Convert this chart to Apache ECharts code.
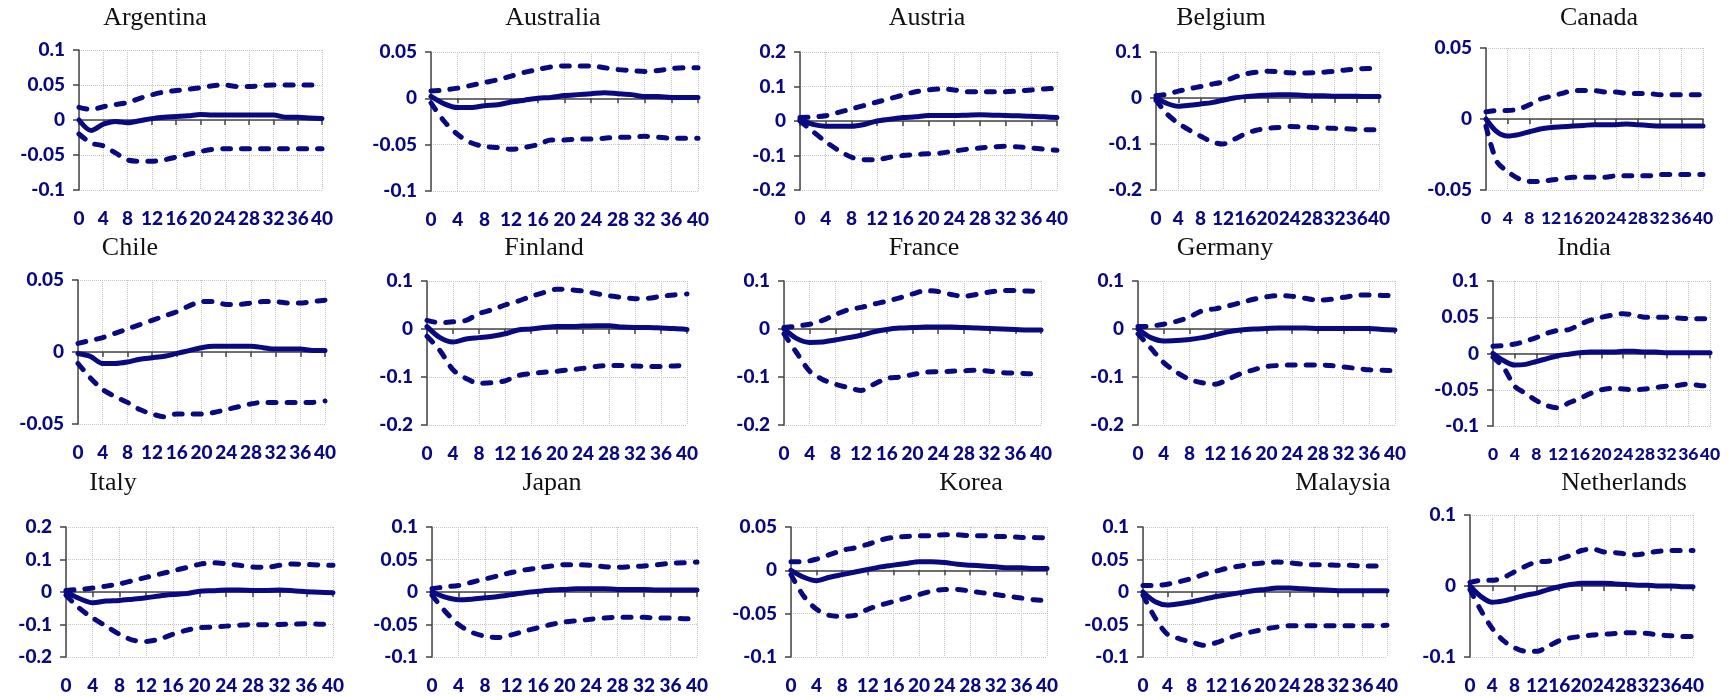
<!DOCTYPE html>
<html><head><meta charset="utf-8">
<script src="https://cdn.jsdelivr.net/npm/echarts@6/dist/echarts.min.js"></script>
<style>html,body{margin:0;padding:0;background:#fff}#c{width:1730px;height:696px}</style>
</head><body><div id="c"></div>
<script>
// Horizons (quarters)
const horizons = [0,2,4,6,8,10,12,14,16,18,20,22,24,26,28,30,32,34,36,38,40];

// Y-axis ranges: [min, max, step]
const argentinaRange = [-0.1, 0.1, 0.05];
const australiaRange = [-0.1, 0.05, 0.05];
const austriaRange = [-0.2, 0.2, 0.1];
const belgiumRange = [-0.2, 0.1, 0.1];
const canadaRange = [-0.05, 0.05, 0.05];
const chileRange = [-0.05, 0.05, 0.05];
const finlandRange = [-0.2, 0.1, 0.1];
const franceRange = [-0.2, 0.1, 0.1];
const germanyRange = [-0.2, 0.1, 0.1];
const indiaRange = [-0.1, 0.1, 0.05];
const italyRange = [-0.2, 0.2, 0.1];
const japanRange = [-0.1, 0.1, 0.05];
const koreaRange = [-0.1, 0.05, 0.05];
const malaysiaRange = [-0.1, 0.1, 0.05];
const netherlandsRange = [-0.1, 0.1, 0.1];

const argentinaUpper = [0.018,0.015,0.019,0.022,0.025,0.031,0.036,0.04,0.042,0.044,0.046,0.049,0.05,0.048,0.048,0.049,0.05,0.05,0.05,0.05,0.05];
const argentinaResponse = [0,-0.015,-0.006,-0.002,-0.004,-0.001,0.002,0.004,0.005,0.006,0.008,0.007,0.007,0.007,0.007,0.007,0.007,0.004,0.004,0.003,0.002];
const argentinaLower = [-0.02,-0.033,-0.037,-0.047,-0.057,-0.059,-0.059,-0.057,-0.053,-0.049,-0.045,-0.042,-0.041,-0.041,-0.041,-0.041,-0.041,-0.041,-0.041,-0.041,-0.041];

const australiaUpper = [0.008,0.009,0.011,0.014,0.017,0.02,0.024,0.028,0.031,0.034,0.035,0.035,0.035,0.033,0.031,0.03,0.029,0.03,0.032,0.033,0.033];
const australiaResponse = [0.002,-0.006,-0.01,-0.01,-0.008,-0.007,-0.004,-0.002,0,0.001,0.003,0.004,0.005,0.006,0.005,0.004,0.002,0.002,0.001,0.001,0.001];
const australiaLower = [-0.005,-0.025,-0.039,-0.048,-0.052,-0.053,-0.055,-0.053,-0.05,-0.045,-0.045,-0.044,-0.044,-0.043,-0.042,-0.042,-0.041,-0.042,-0.043,-0.043,-0.043];

const austriaUpper = [0.01,0.012,0.015,0.025,0.035,0.045,0.055,0.065,0.075,0.085,0.09,0.093,0.09,0.085,0.085,0.085,0.085,0.087,0.09,0.093,0.095];
const austriaResponse = [0.005,-0.01,-0.015,-0.015,-0.015,-0.01,0,0.005,0.01,0.012,0.016,0.016,0.016,0.017,0.018,0.017,0.016,0.015,0.014,0.012,0.01];
const austriaLower = [0,-0.03,-0.06,-0.085,-0.105,-0.112,-0.112,-0.105,-0.1,-0.097,-0.095,-0.093,-0.087,-0.082,-0.078,-0.075,-0.073,-0.075,-0.078,-0.082,-0.085];

const belgiumUpper = [0.005,0.008,0.015,0.02,0.025,0.03,0.035,0.045,0.052,0.056,0.058,0.057,0.055,0.054,0.055,0.056,0.058,0.061,0.063,0.064,0.064];
const belgiumResponse = [0,-0.012,-0.018,-0.016,-0.013,-0.01,-0.005,0,0.003,0.005,0.006,0.007,0.007,0.006,0.005,0.005,0.004,0.004,0.004,0.003,0.003];
const belgiumLower = [-0.005,-0.035,-0.055,-0.07,-0.083,-0.095,-0.1,-0.09,-0.078,-0.07,-0.066,-0.064,-0.062,-0.063,-0.064,-0.065,-0.066,-0.067,-0.068,-0.069,-0.069];

const canadaUpper = [0.005,0.006,0.006,0.007,0.01,0.014,0.016,0.018,0.02,0.02,0.02,0.019,0.019,0.018,0.018,0.018,0.017,0.017,0.017,0.017,0.017];
const canadaResponse = [0,-0.009,-0.012,-0.011,-0.009,-0.007,-0.006,-0.0055,-0.005,-0.0045,-0.004,-0.004,-0.004,-0.0035,-0.004,-0.0045,-0.005,-0.005,-0.005,-0.005,-0.005];
const canadaLower = [-0.005,-0.03,-0.037,-0.042,-0.044,-0.044,-0.043,-0.042,-0.041,-0.041,-0.041,-0.041,-0.04,-0.04,-0.04,-0.04,-0.039,-0.039,-0.039,-0.039,-0.039];

const chileUpper = [0.006,0.008,0.01,0.013,0.016,0.019,0.022,0.025,0.028,0.032,0.035,0.035,0.033,0.033,0.034,0.035,0.035,0.034,0.034,0.035,0.036];
const chileResponse = [-0.001,-0.003,-0.008,-0.008,-0.007,-0.005,-0.004,-0.003,-0.001,0.001,0.003,0.004,0.004,0.004,0.004,0.003,0.002,0.002,0.002,0.001,0.001];
const chileLower = [-0.008,-0.018,-0.026,-0.031,-0.035,-0.04,-0.043,-0.045,-0.043,-0.043,-0.043,-0.042,-0.04,-0.038,-0.036,-0.035,-0.035,-0.035,-0.035,-0.035,-0.034];

const finlandUpper = [0.018,0.013,0.015,0.018,0.032,0.04,0.05,0.058,0.068,0.076,0.083,0.082,0.079,0.074,0.069,0.066,0.063,0.064,0.068,0.071,0.073];
const finlandResponse = [0.005,-0.018,-0.027,-0.021,-0.018,-0.015,-0.01,-0.002,0,0.003,0.005,0.005,0.006,0.007,0.007,0.004,0.003,0.003,0.002,0.001,-0.001];
const finlandLower = [-0.015,-0.045,-0.085,-0.103,-0.113,-0.112,-0.108,-0.097,-0.093,-0.09,-0.088,-0.085,-0.082,-0.078,-0.076,-0.076,-0.077,-0.078,-0.078,-0.077,-0.076];

const franceUpper = [0.003,0.006,0.01,0.018,0.03,0.04,0.045,0.052,0.058,0.065,0.073,0.08,0.078,0.072,0.068,0.072,0.077,0.08,0.08,0.079,0.078];
const franceResponse = [0,-0.02,-0.028,-0.027,-0.023,-0.018,-0.013,-0.006,-0.001,0.002,0.003,0.004,0.004,0.004,0.003,0.002,0.001,0,-0.001,-0.002,-0.002];
const franceLower = [-0.01,-0.05,-0.088,-0.105,-0.115,-0.122,-0.128,-0.115,-0.103,-0.1,-0.095,-0.09,-0.089,-0.088,-0.087,-0.086,-0.088,-0.091,-0.092,-0.093,-0.093];

const germanyUpper = [0.005,0.006,0.01,0.016,0.025,0.038,0.042,0.048,0.055,0.062,0.067,0.07,0.068,0.064,0.06,0.062,0.066,0.07,0.071,0.07,0.069];
const germanyResponse = [0,-0.018,-0.025,-0.024,-0.022,-0.018,-0.012,-0.006,-0.002,0,0.001,0.002,0.002,0.002,0.001,0.001,0.001,0.001,0.001,-0.001,-0.002];
const germanyLower = [-0.01,-0.04,-0.07,-0.09,-0.105,-0.112,-0.115,-0.105,-0.093,-0.085,-0.078,-0.076,-0.075,-0.075,-0.075,-0.076,-0.079,-0.082,-0.085,-0.086,-0.087];

const indiaUpper = [0.01,0.011,0.013,0.017,0.022,0.028,0.032,0.033,0.04,0.046,0.05,0.053,0.055,0.053,0.05,0.05,0.05,0.049,0.048,0.048,0.048];
const indiaResponse = [0,-0.01,-0.016,-0.015,-0.011,-0.007,-0.003,-0.001,0.001,0.002,0.002,0.002,0.003,0.003,0.002,0.002,0.001,0.001,0.001,0.001,0.001];
const indiaLower = [-0.005,-0.02,-0.045,-0.055,-0.065,-0.072,-0.075,-0.068,-0.062,-0.055,-0.05,-0.048,-0.049,-0.05,-0.049,-0.047,-0.045,-0.044,-0.042,-0.044,-0.045];

const italyUpper = [0.005,0.008,0.012,0.018,0.025,0.035,0.045,0.055,0.065,0.075,0.085,0.09,0.087,0.082,0.077,0.076,0.082,0.086,0.085,0.083,0.082];
const italyResponse = [0,-0.02,-0.033,-0.028,-0.026,-0.022,-0.018,-0.012,-0.008,-0.005,0.002,0.004,0.006,0.006,0.005,0.005,0.006,0.004,0.001,-0.001,-0.002];
const italyLower = [-0.01,-0.05,-0.08,-0.105,-0.13,-0.148,-0.152,-0.145,-0.13,-0.118,-0.11,-0.108,-0.105,-0.102,-0.1,-0.101,-0.1,-0.099,-0.098,-0.099,-0.1];

const japanUpper = [0.005,0.008,0.01,0.015,0.02,0.025,0.03,0.034,0.037,0.04,0.042,0.042,0.041,0.039,0.038,0.039,0.04,0.042,0.044,0.045,0.046];
const japanResponse = [0,-0.008,-0.012,-0.011,-0.009,-0.007,-0.004,-0.001,0.001,0.003,0.004,0.005,0.005,0.005,0.004,0.004,0.004,0.003,0.003,0.003,0.003];
const japanLower = [-0.005,-0.03,-0.05,-0.062,-0.068,-0.07,-0.066,-0.06,-0.055,-0.05,-0.046,-0.044,-0.042,-0.04,-0.039,-0.039,-0.039,-0.04,-0.04,-0.041,-0.041];

const koreaUpper = [0.01,0.01,0.013,0.018,0.023,0.026,0.03,0.035,0.038,0.039,0.04,0.04,0.041,0.041,0.04,0.04,0.039,0.039,0.038,0.038,0.037];
const koreaResponse = [0,-0.008,-0.012,-0.008,-0.005,-0.002,0.001,0.004,0.006,0.008,0.01,0.01,0.009,0.007,0.006,0.005,0.004,0.003,0.003,0.002,0.002];
const koreaLower = [-0.005,-0.03,-0.045,-0.052,-0.053,-0.052,-0.045,-0.04,-0.036,-0.032,-0.028,-0.024,-0.022,-0.022,-0.024,-0.026,-0.028,-0.03,-0.032,-0.034,-0.035];

const malaysiaUpper = [0.01,0.01,0.012,0.016,0.021,0.027,0.032,0.037,0.04,0.043,0.045,0.046,0.045,0.043,0.042,0.042,0.041,0.041,0.04,0.04,0.04];
const malaysiaResponse = [0,-0.015,-0.02,-0.018,-0.015,-0.011,-0.007,-0.004,-0.001,0.002,0.004,0.006,0.006,0.005,0.004,0.003,0.002,0.002,0.002,0.002,0.002];
const malaysiaLower = [-0.005,-0.04,-0.065,-0.072,-0.077,-0.082,-0.078,-0.071,-0.065,-0.061,-0.057,-0.054,-0.052,-0.052,-0.052,-0.052,-0.052,-0.052,-0.052,-0.052,-0.051];

const netherlandsUpper = [0.005,0.008,0.008,0.012,0.02,0.028,0.034,0.035,0.038,0.043,0.05,0.052,0.048,0.047,0.045,0.044,0.047,0.049,0.05,0.05,0.05];
const netherlandsResponse = [0,-0.015,-0.023,-0.021,-0.017,-0.013,-0.01,-0.005,-0.001,0.002,0.004,0.004,0.004,0.003,0.002,0.001,0.001,0,0,-0.001,-0.001];
const netherlandsLower = [-0.005,-0.035,-0.06,-0.077,-0.087,-0.092,-0.092,-0.085,-0.077,-0.073,-0.071,-0.069,-0.068,-0.067,-0.066,-0.066,-0.067,-0.069,-0.07,-0.071,-0.071];

const panels = [
  {name:'Argentina', upper:argentinaUpper, mid:argentinaResponse, lower:argentinaLower, range:argentinaRange},
  {name:'Australia', upper:australiaUpper, mid:australiaResponse, lower:australiaLower, range:australiaRange},
  {name:'Austria', upper:austriaUpper, mid:austriaResponse, lower:austriaLower, range:austriaRange},
  {name:'Belgium', upper:belgiumUpper, mid:belgiumResponse, lower:belgiumLower, range:belgiumRange},
  {name:'Canada', upper:canadaUpper, mid:canadaResponse, lower:canadaLower, range:canadaRange},
  {name:'Chile', upper:chileUpper, mid:chileResponse, lower:chileLower, range:chileRange},
  {name:'Finland', upper:finlandUpper, mid:finlandResponse, lower:finlandLower, range:finlandRange},
  {name:'France', upper:franceUpper, mid:franceResponse, lower:franceLower, range:franceRange},
  {name:'Germany', upper:germanyUpper, mid:germanyResponse, lower:germanyLower, range:germanyRange},
  {name:'India', upper:indiaUpper, mid:indiaResponse, lower:indiaLower, range:indiaRange},
  {name:'Italy', upper:italyUpper, mid:italyResponse, lower:italyLower, range:italyRange},
  {name:'Japan', upper:japanUpper, mid:japanResponse, lower:japanLower, range:japanRange},
  {name:'Korea', upper:koreaUpper, mid:koreaResponse, lower:koreaLower, range:koreaRange},
  {name:'Malaysia', upper:malaysiaUpper, mid:malaysiaResponse, lower:malaysiaLower, range:malaysiaRange},
  {name:'Netherlands', upper:netherlandsUpper, mid:netherlandsResponse, lower:netherlandsLower, range:netherlandsRange}
];

// Layout: [plotLeft, plotTop, plotRight(x=40), plotBottom, titleCenterX, titleTop]
const boxes = [
  [79,50,322,190,155,5],[431,52,698,191,553,5],[800,52,1057,190,927,5],[1156,52,1379,190,1221,5],[1486,48,1703,190,1599,5],
  [78,280,325,424,130,235],[427,281,687,425,544,235],[784,281,1041,425,924,235],[1138,281,1395,425,1225,235],[1493,281,1710,426,1584,235],
  [66,527,333,657,113,470],[432,527,697,657,552,470],[791,527,1047,657,971,470],[1143,527,1387,657,1343,470],[1470,515,1693,657,1624,470]
];

const NAVY = '#0a0a80';
const AX = '#444';
const GRIDC = '#c4c4c4';
const labelFont = {color:NAVY, fontFamily:'Lato', fontWeight:900, fontSize:19};

const grid=[], xAxis=[], yAxis=[], series=[], title=[];
panels.forEach((p,i)=>{
  const b = boxes[i];
  const step = (b[2]-b[0]) / 10;
  grid.push({left:b[0], top:b[1], width:b[2]-b[0], height:b[3]-b[1]});
  title.push({text:p.name, left:b[4], top:b[5], textAlign:'center', padding:0,
    textStyle:{fontFamily:'Liberation Serif', fontSize:26, fontWeight:'normal', color:'#111'}});
  xAxis.push({type:'value', gridIndex:i, min:0, max:40, interval:4, position:'bottom',
    axisLine:{show:false, onZero:false}, axisTick:{show:false},
    axisLabel:Object.assign({}, labelFont, {margin:19, showMinLabel:true, showMaxLabel:true, hideOverlap:false,
      fontSize: step < 22 ? 17.5 : 19}),
    splitLine:{show:true, lineStyle:{color:GRIDC, type:'dotted', width:1}}});
  xAxis.push({type:'value', gridIndex:i, min:0, max:40, interval:4, position:'bottom',
    axisLine:{show:true, onZero:true, lineStyle:{color:AX, width:1.5}},
    axisTick:{show:true, length:5, lineStyle:{color:AX, width:1.5}},
    axisLabel:{show:false}, splitLine:{show:false}});
  yAxis.push({type:'value', gridIndex:i, min:p.range[0], max:p.range[1], interval:p.range[2],
    axisLine:{show:true, onZero:false, lineStyle:{color:AX, width:1.5}},
    axisTick:{show:true, length:6, lineStyle:{color:AX, width:1.5}},
    axisLabel:Object.assign({margin:14, showMinLabel:true, showMaxLabel:true}, labelFont),
    splitLine:{show:true, lineStyle:{color:GRIDC, type:'dotted', width:1}}});
  const mk = (arr, dashed) => ({
    type:'line', xAxisIndex:2*i, yAxisIndex:i, showSymbol:false, smooth:0.3, silent:true,
    data: horizons.map((h,k)=>[h, arr[k]]),
    lineStyle:{color:NAVY, width:5, type: dashed ? [8,11] : 'solid', cap:'round', join:'round'},
    z:5
  });
  series.push(mk(p.lower,true), mk(p.upper,true), mk(p.mid,false));
});

const chart = echarts.init(document.getElementById('c'), null, {renderer:'canvas'});
chart.setOption({animation:false, backgroundColor:'#fff', title, grid, xAxis, yAxis, series});
</script></body></html>
